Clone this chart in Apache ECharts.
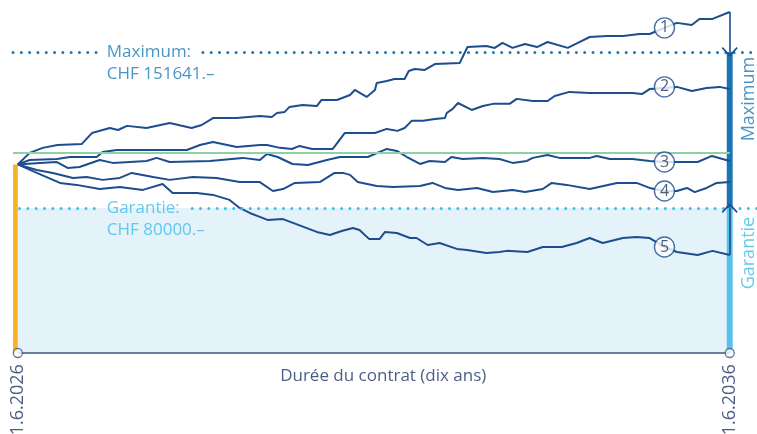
<!DOCTYPE html>
<html>
<head>
<meta charset="utf-8">
<script src="https://cdn.jsdelivr.net/npm/echarts@6/dist/echarts.min.js"></script>
<style>
html, body { margin: 0; padding: 0; background: #fff; }
#chart { width: 757px; height: 434px; }
</style>
</head>
<body>
<div id="chart"></div>
<script>
// Months since 1.6.2026 and projected value in CHF
const path1 = [[0,100000],[2,105300],[4.2,107600],[6.7,108900],[10.8,109400],[12.5,114400],[15.5,116700],[16.9,115800],[18.4,117700],[21.7,116700],[25.6,119000],[29.3,116700],[31,118100],[32.9,121300],[36.9,121300],[40.8,122200],[42.8,121800],[43.7,123600],[45,124100],[45.8,126400],[48,127300],[50.4,126800],[51.2,129600],[53.8,129600],[56,131900],[56.8,134200],[58.8,131000],[60.2,134200],[60.5,137400],[62.2,138300],[63.5,139200],[65.2,139200],[65.9,142900],[66.9,143800],[68.6,143400],[70.3,146100],[74.5,146600],[75.8,153900],[79,154400],[80.4,153500],[81.7,155800],[83.4,153500],[85.5,155300],[87.5,153900],[89.3,156200],[92.7,153500],[94.4,155800],[96.4,158500],[99.3,159000],[102,159000],[104.8,159900],[106.5,159900],[111.1,165000],[113.6,164000],[114.9,166800],[117.1,166800],[120,170000]];
const path2 = [[0,100000],[2,102000],[6.6,102500],[8.8,103400],[13.3,103400],[14.3,105700],[16.7,106600],[21.1,106600],[28.5,106600],[30.7,108900],[32.9,110300],[36.9,108000],[40.8,108900],[42,108900],[44.2,107600],[46.2,107100],[47.5,108500],[49.6,107100],[53.1,107100],[55.1,114400],[60.2,114400],[62.2,116300],[64,115400],[65.2,116700],[66.4,120000],[68.3,120000],[70.3,120900],[72,121300],[72.3,123600],[73.3,125500],[74.2,128200],[76.5,125000],[78.4,126800],[80.1,127800],[82.9,127800],[84.1,130100],[86.8,129100],[89.3,129100],[90.5,131400],[93,133300],[96.4,132800],[100.9,132800],[103.6,132800],[105.2,132300],[106.5,134600],[111.1,135600],[113.6,133700],[116.1,135100],[118.3,135600],[120,134600]];
const path3 = [[0,100000],[3.7,100700],[6.6,101100],[8.4,98400],[10.4,98800],[13.8,102000],[16,100700],[21.7,101600],[23.4,103000],[25.6,101100],[32.4,101600],[37.9,103000],[40.8,102000],[42,104800],[43.8,103400],[46.3,100200],[48.9,99700],[52.1,102000],[54.3,103400],[59,103400],[62.2,107100],[63.9,106200],[65.6,103400],[67.8,100200],[69.4,101600],[72,101100],[73.1,103400],[75,102500],[78.4,103000],[81.2,102500],[83.4,100700],[85.8,101600],[86.8,103000],[89.3,104300],[91.3,103000],[96.4,103000],[97.6,103900],[99.8,102500],[103.6,102500],[106.5,101600],[109,101100],[111.1,101100],[114.6,101100],[117,103900],[120,101600]];
const path4 = [[0,100000],[3.2,97400],[5.9,96100],[9.3,93800],[11.6,94200],[14.3,92900],[17.2,93800],[19.2,96100],[22.8,94200],[25.6,92900],[29.5,94200],[33.5,93800],[37.4,91900],[40.8,91900],[43,87800],[44.7,88700],[46.7,91500],[50.9,91900],[53.4,96100],[54.8,96100],[56,95200],[57.3,91900],[60.5,90100],[63.2,89600],[67.8,90100],[69.9,91500],[72,89200],[74.2,88300],[77.4,89200],[80.1,87300],[83.4,88300],[85.5,87300],[88.5,88700],[90,91500],[92.5,90600],[96.4,88700],[101,91500],[104.3,91500],[106.5,89200],[109,87800],[111.1,87800],[112.8,89200],[114.1,87300],[116.1,89200],[117.8,91500],[120,91900]];
const path5 = [[0,100000],[3.2,96100],[7.1,91500],[9.9,90600],[13.8,88700],[17.2,89600],[21.1,88300],[24.4,91000],[26.1,86900],[30.2,86900],[32.9,86000],[35.7,83700],[37.4,80000],[39.1,77700],[40.8,75900],[42.1,74500],[44.7,74900],[50.4,69000],[52.6,67600],[54.6,69400],[56.5,70800],[57.6,69900],[59.2,65800],[61,65800],[61.9,69000],[63.9,68500],[66.1,66200],[67.2,66200],[69.1,63000],[71.1,63900],[74,61200],[75.7,60700],[79,59300],[81.2,59800],[82.4,60300],[85.9,59800],[88.5,62100],[91.7,62100],[94.2,63900],[96.4,66200],[98.6,63900],[102,66200],[104.3,66700],[106.5,66200],[109,62100],[111.1,59800],[114.6,58400],[117.1,60300],[120,58400]];

const startValue = 100000;
const guarantee = 80000;
const maximum = 151641;
const premiumLevel = 105300;
const endMonth = 120;

const circleMonth = 109;
const circleValues = [162700, 135600, 101100, 87800, 62100];
const circleLabels = ['1', '2', '3', '4', '5'];
const dateLabels = ['1.6.2026', '1.6.2036'];
const axisTitle = 'Durée du contrat (dix ans)';

const yMin = 13400;
const yMax = 175500;

const lineColor = '#1c4d8e';
const maxColor = '#1d78b6';
const garColor = '#3dbde8';
const darkText = '#1f3566';
const axisColor = '#3c5479';
const font = 'Open Sans';

const chevron = 'path://M0,0 L10,10 L8.6,11.4 L0,2.8 L-8.6,11.4 L-10,10 Z';

const chart = echarts.init(document.getElementById('chart'));

const pathSeries = [path1, path2, path3, path4, path5].map((p, i) => ({
    type: 'line',
    name: 'Scenario ' + (i + 1),
    data: p,
    showSymbol: false,
    silent: true,
    z: 3,
    lineStyle: { color: lineColor, width: 2 },
    animation: false,
}));

function twoLineLabel(title, amount, color) {
    return {
        show: true,
        position: 'right',
        distance: 0,
        offset: [0, 11],
        formatter: title + '\n' + amount,
        color: color,
        fontSize: 17,
        fontFamily: font,
        lineHeight: 22,
    };
}

const dotted = (color) => ({ color: color, width: 3, type: [0, 8.3], cap: 'round' });

const option = {
    animation: false,
    grid: { left: 0, right: 0, top: 0, bottom: 81 },
    xAxis: { type: 'value', min: -3, max: 124.6, show: false },
    yAxis: { type: 'value', min: yMin, max: yMax, show: false },
    series: [
        {
            // background areas and reference lines
            type: 'line', data: [], z: 1, silent: true,
            markArea: {
                silent: true,
                data: [
                    [{ xAxis: 0, yAxis: yMin, itemStyle: { color: '#e4f2fa' } }, { xAxis: endMonth, yAxis: guarantee }],
                    [{ xAxis: -0.8, yAxis: yMin, itemStyle: { color: '#f9b224' } }, { xAxis: 0, yAxis: startValue }],
                ],
            },
            markLine: {
                silent: true,
                symbol: 'none',
                label: { show: false },
                data: [
                    [{ coord: [-0.8, premiumLevel], lineStyle: { color: '#8fd1a6', width: 2, type: 'solid' } }, { coord: [endMonth, premiumLevel] }],
                    [{ coord: [-0.8, maximum], lineStyle: dotted(maxColor) }, { coord: [13.5, maximum] }],
                    [{ coord: [31.2, maximum], lineStyle: dotted(maxColor) }, { coord: [124.6, maximum] }],
                    [{ coord: [0.3, guarantee], lineStyle: dotted(garColor) }, { coord: [13.2, guarantee] }],
                    [{ coord: [29.4, guarantee], lineStyle: dotted(garColor) }, { coord: [124.6, guarantee] }],
                    [{ coord: [0, yMin], lineStyle: { color: axisColor, width: 1.5, type: 'solid' } }, { coord: [endMonth, yMin] }],
                ],
            },
        },
        ...pathSeries,
        {
            // right-hand range bar
            type: 'line', data: [], z: 4, silent: true,
            markArea: {
                silent: true,
                data: [
                    [{ xAxis: 119.5, yAxis: guarantee, itemStyle: { color: '#1b74b3' } }, { xAxis: 120.5, yAxis: maximum }],
                    [{ xAxis: 119.5, yAxis: yMin, itemStyle: { color: '#55c3ea' } }, { xAxis: 120.5, yAxis: guarantee }],
                ],
            },
        },
        {
            // arrows to maximum and guarantee
            type: 'line', data: [], z: 5, silent: true,
            markLine: {
                silent: true,
                symbol: ['none', chevron],
                symbolSize: [16, 10],
                label: { show: false },
                lineStyle: { color: lineColor, width: 1.6, type: 'solid' },
                data: [
                    [{ coord: [endMonth, path1[path1.length - 1][1]] }, { coord: [endMonth, maximum] }],
                    [{ coord: [endMonth, path5[path5.length - 1][1]] }, { coord: [endMonth, guarantee] }],
                ],
            },
        },
        {
            // numbered scenario markers
            type: 'scatter', z: 6, silent: true,
            symbolSize: 20,
            itemStyle: { color: '#fff', borderColor: lineColor, borderWidth: 1.4 },
            label: { show: true, position: 'inside', color: darkText, fontSize: 16, fontFamily: font, formatter: (p) => circleLabels[p.dataIndex] },
            data: circleValues.map((v) => [circleMonth, v]),
        },
        {
            // axis end points with dates
            type: 'scatter', z: 6, silent: true, clip: false,
            symbolSize: 9,
            itemStyle: { color: '#fff', borderColor: axisColor, borderWidth: 1.3 },
            label: {
                show: true, position: 'bottom', distance: 6, rotate: 90,
                align: 'right', verticalAlign: 'middle',
                color: darkText, fontSize: 18, fontFamily: font,
                formatter: (p) => dateLabels[p.dataIndex],
            },
            data: [[0, yMin], [endMonth, yMin]],
        },
        {
            // text annotations
            type: 'scatter', z: 7, silent: true, clip: false,
            symbolSize: 0,
            data: [
                { value: [15, maximum], label: twoLineLabel('Maximum:', 'CHF 151641.–', maxColor) },
                { value: [15, guarantee], label: twoLineLabel('Garantie:', 'CHF 80000.–', garColor) },
                { value: [123.3, 130000], label: { show: true, position: 'inside', rotate: 90, color: maxColor, fontSize: 18, fontFamily: font, formatter: 'Maximum' } },
                { value: [123.3, 59300], label: { show: true, position: 'inside', rotate: 90, color: garColor, fontSize: 18, fontFamily: font, formatter: 'Garantie' } },
                { value: [61.6, 2800], label: { show: true, position: 'inside', color: darkText, fontSize: 17, fontFamily: font, formatter: axisTitle } },
            ],
        },
    ],
};

chart.setOption(option);
</script>
</body>
</html>
